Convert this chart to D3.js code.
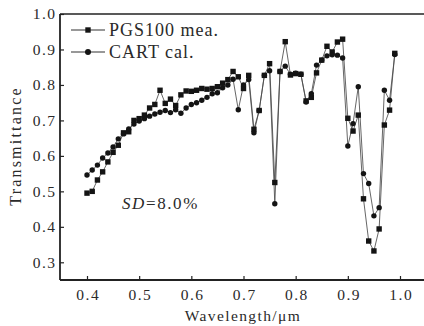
<!DOCTYPE html>
<html>
<head>
<meta charset="utf-8">
<script src="https://cdn.jsdelivr.net/npm/d3@7/dist/d3.min.js"></script>
<style>
html,body{margin:0;padding:0;background:#fff;}
svg{display:block;}
text{font-family:"Liberation Serif","DejaVu Serif",serif;fill:#2a2a2a;}
</style>
</head>
<body>
<svg id="chart" width="424" height="326"></svg>
<script>
const wavelength = [0.40,0.41,0.42,0.43,0.44,0.45,0.46,0.47,0.48,0.49,
  0.50,0.51,0.52,0.53,0.54,0.55,0.56,0.57,0.58,0.59,
  0.60,0.61,0.62,0.63,0.64,0.65,0.66,0.67,0.68,0.69,
  0.70,0.71,0.72,0.73,0.74,0.75,0.76,0.77,0.78,0.79,
  0.80,0.81,0.82,0.83,0.84,0.85,0.86,0.87,0.88,0.89,
  0.90,0.91,0.92,0.93,0.94,0.95,0.96,0.97,0.98,0.99];
const pgsMeasured = [0.495,0.500,0.532,0.555,0.583,0.610,0.630,0.665,0.668,0.700,
  0.705,0.715,0.735,0.745,0.785,0.748,0.760,0.742,0.772,0.783,
  0.782,0.785,0.790,0.788,0.790,0.795,0.805,0.815,0.838,0.823,
  0.790,0.827,0.675,0.728,0.827,0.860,0.525,0.838,0.922,0.828,
  0.832,0.830,0.755,0.765,0.834,0.870,0.909,0.893,0.921,0.929,
  0.706,0.670,0.715,0.479,0.360,0.332,0.394,0.687,0.729,0.889];
const cartCalculated = [0.546,0.560,0.574,0.594,0.608,0.625,0.648,0.662,0.676,0.690,
  0.698,0.705,0.712,0.718,0.723,0.728,0.722,0.730,0.720,0.735,
  0.745,0.750,0.757,0.765,0.775,0.778,0.792,0.800,0.816,0.730,
  0.800,0.815,0.665,0.728,0.827,0.840,0.465,0.838,0.853,0.830,
  0.833,0.830,0.752,0.775,0.856,0.870,0.882,0.885,0.884,0.876,
  0.628,0.691,0.795,0.550,0.522,0.431,0.454,0.785,0.757,0.886];
const xTicks = [0.4,0.5,0.6,0.7,0.8,0.9,1.0];
const yTicks = [0.3,0.4,0.5,0.6,0.7,0.8,0.9,1.0];
const seriesNames = ["PGS100 mea.","CART cal."];

const svg = d3.select("#chart");
const plotLeft = 60, plotBottom = 280, plotTop = 14, plotRight = 432;
const x = d3.scaleLinear().domain([0.4,1.0]).range([87,400]);
const y = d3.scaleLinear().domain([0.3,1.0]).range([262.3,14]);

// frame
svg.append("line").attr("x1",plotLeft).attr("x2",plotRight).attr("y1",plotTop).attr("y2",plotTop)
  .attr("stroke","#222").attr("stroke-width",1.6);

const xAxis = d3.axisBottom(x).tickValues(xTicks).tickSizeInner(-4).tickSizeOuter(0)
  .tickPadding(8).tickFormat(d3.format(".1f"));
const gx = svg.append("g").attr("transform",`translate(0,${plotBottom})`).call(xAxis);
gx.select(".domain").remove();
gx.selectAll(".tick line").attr("stroke","#222").attr("stroke-width",1.2);
gx.selectAll(".tick text").attr("font-size",15.5).attr("letter-spacing","1.5px")
  .attr("dx","0.75px").attr("dy","0.71em").attr("y",9);
svg.append("line").attr("x1",plotLeft).attr("x2",plotRight).attr("y1",plotBottom).attr("y2",plotBottom)
  .attr("stroke","#222").attr("stroke-width",1.8);

const yAxis = d3.axisLeft(y).tickValues(yTicks).tickSizeInner(-4).tickSizeOuter(0)
  .tickPadding(6).tickFormat(d3.format(".1f"));
const gy = svg.append("g").attr("transform",`translate(${plotLeft},0)`).call(yAxis);
gy.select(".domain").remove();
gy.selectAll(".tick line").attr("stroke","#222").attr("stroke-width",1.2);
gy.selectAll(".tick text").attr("font-size",15.5).attr("letter-spacing","1.5px").attr("x",-3.5);
svg.append("line").attr("x1",plotLeft).attr("x2",plotLeft).attr("y1",plotTop).attr("y2",plotBottom)
  .attr("stroke","#222").attr("stroke-width",1.8);

// titles
svg.append("text").attr("x",243).attr("y",321).attr("text-anchor","middle")
  .attr("font-size",15.5).attr("letter-spacing","1.4px").text("Wavelength/μm");
svg.append("text").attr("transform","translate(21,146) rotate(-90)")
  .attr("text-anchor","middle").attr("font-size",16).attr("letter-spacing","2.2px").text("Transmittance");

// lines
const line = vals => d3.line().x((d,i)=>x(wavelength[i])).y(d=>y(d))(vals);
svg.append("path").attr("d",line(cartCalculated)).attr("fill","none")
  .attr("stroke","#4a4a4a").attr("stroke-width",0.85);
svg.append("path").attr("d",line(pgsMeasured)).attr("fill","none")
  .attr("stroke","#4a4a4a").attr("stroke-width",0.85);

// markers
const sq = 5.4;
svg.append("g").selectAll("rect").data(pgsMeasured).join("rect")
  .attr("x",(d,i)=>x(wavelength[i])-sq/2).attr("y",d=>y(d)-sq/2)
  .attr("width",sq).attr("height",sq).attr("fill","#141414");
svg.append("g").selectAll("circle").data(cartCalculated).join("circle")
  .attr("cx",(d,i)=>x(wavelength[i])).attr("cy",d=>y(d)).attr("r",2.7).attr("fill","#141414");

// legend
const lg = svg.append("g");
[30,52].forEach((ly,k)=>{
  lg.append("line").attr("x1",71).attr("x2",105).attr("y1",ly).attr("y2",ly)
    .attr("stroke","#333").attr("stroke-width",1.1);
  if(k===0){
    lg.append("rect").attr("x",88-sq/2).attr("y",ly-sq/2).attr("width",sq).attr("height",sq).attr("fill","#141414");
  } else {
    lg.append("circle").attr("cx",88).attr("cy",ly).attr("r",3).attr("fill","#141414");
  }
  lg.append("text").attr("x",109).attr("y",ly+6).attr("font-size",18)
    .attr("letter-spacing","1px").text(seriesNames[k]);
});

// annotation
const ann = svg.append("text").attr("x",122).attr("y",209).attr("font-size",17)
  .attr("letter-spacing","1.6px");
ann.append("tspan").attr("font-style","italic").text("SD");
ann.append("tspan").text("=8.0%");
</script>
</body>
</html>
